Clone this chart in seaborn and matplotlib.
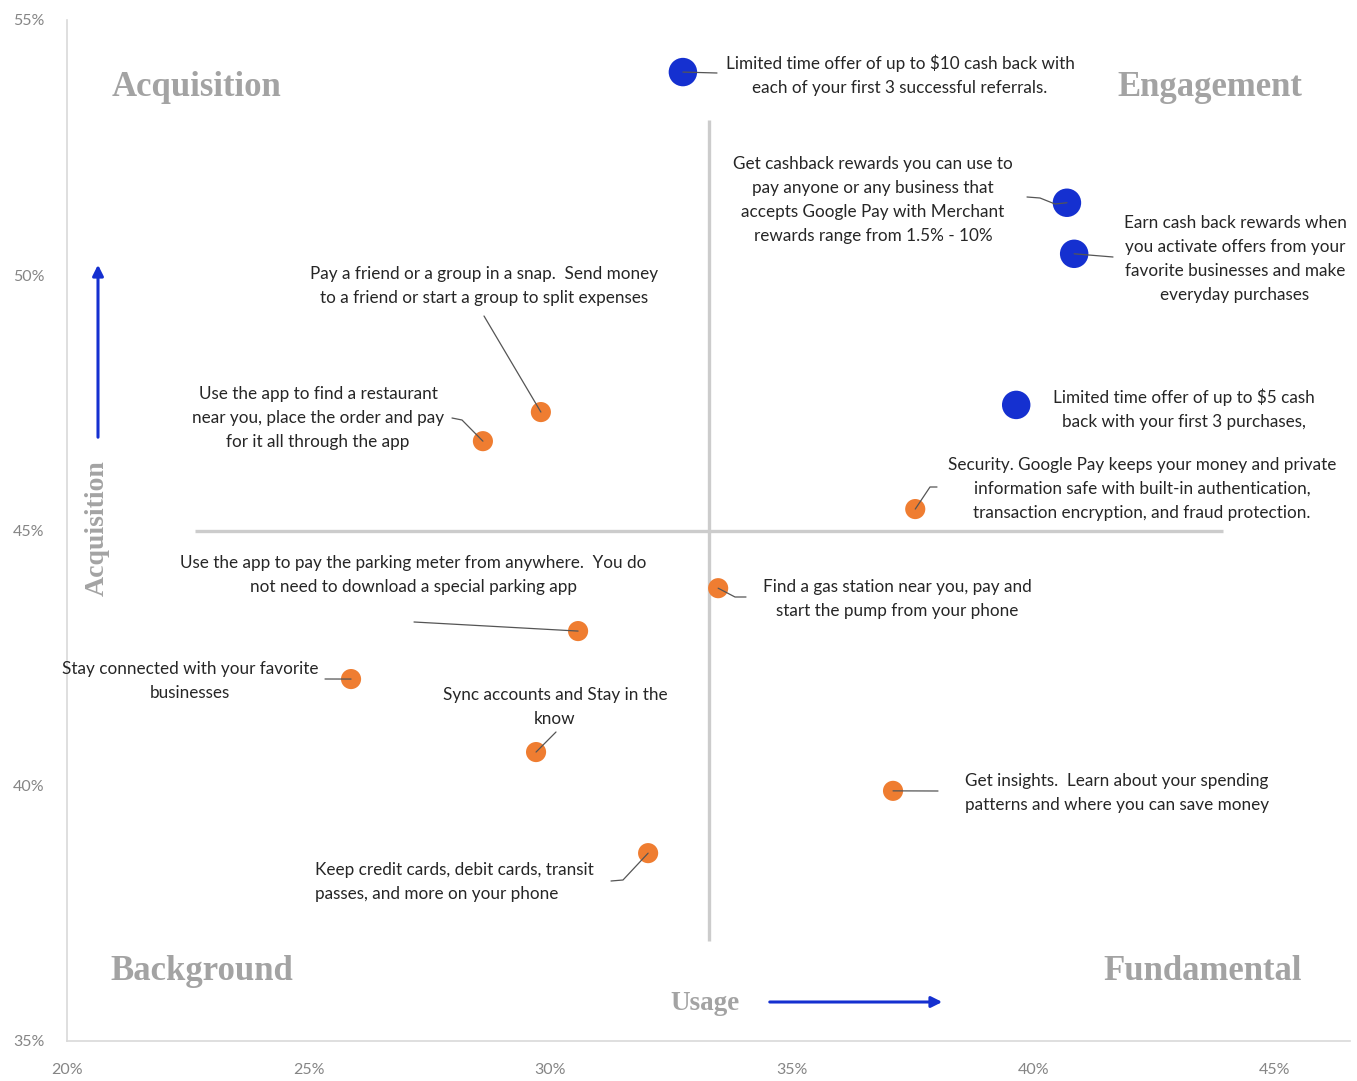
import matplotlib
matplotlib.use("Agg")
import matplotlib.pyplot as plt
import seaborn as sns
import pandas as pd
from matplotlib.transforms import IdentityTransform
from matplotlib.ticker import FuncFormatter

# ---------------- data ----------------
features = [
    "Limited time offer of up to $10 cash back with\neach of your first 3 successful referrals.",
    "Get cashback rewards you can use to\npay anyone or any business that\naccepts Google Pay with Merchant\nrewards range from 1.5% - 10%",
    "Earn cash back rewards when\nyou activate offers from your\nfavorite businesses and make\neveryday purchases",
    "Limited time offer of up to $5 cash\nback with your first 3 purchases,",
    "Pay a friend or a group in a snap.  Send money\nto a friend or start a group to split expenses",
    "Use the app to find a restaurant\nnear you, place the order and pay\nfor it all through the app",
    "Security. Google Pay keeps your money and private\ninformation safe with built-in authentication,\ntransaction encryption, and fraud protection.",
    "Find a gas station near you, pay and\nstart the pump from your phone",
    "Use the app to pay the parking meter from anywhere.  You do\nnot need to download a special parking app",
    "Stay connected with your favorite\nbusinesses",
    "Sync accounts and Stay in the\nknow",
    "Get insights.  Learn about your spending\npatterns and where you can save money",
    "Keep credit cards, debit cards, transit\npasses, and more on your phone",
]
usage = [32.75, 40.70, 40.85, 39.65, 29.81, 28.61, 37.56, 33.48, 30.58, 25.88, 29.71, 37.10, 32.03]
acquisition = [53.98, 51.42, 50.42, 47.46, 47.32, 46.75, 45.42, 43.87, 43.03, 42.09, 40.66, 39.90, 38.68]
group = ["Rewards"] * 4 + ["Core"] * 9

quadrant_names = ["Acquisition", "Engagement", "Background", "Fundamental"]
x_axis_title = "Usage"
y_axis_title = "Acquisition"
x_ticks = [20, 25, 30, 35, 40, 45]
y_ticks = [35, 40, 45, 50, 55]
x_split = 33.29
y_split = 45.0

# ---------------- layout (image pixels) ----------------
W, H = 1357, 1081
label_centers = [(900, 75), (873, 200), (1235, 259), (1184, 409), (484, 286), (318, 418),
                 (1142, 489), (897, 599), (413, 575), (190, 681), (555, 707), (1117, 793),
                 (454, 882)]
label_align = ["center"] * 12 + ["left"]
leaders = [[(717, 73)], [(1055, 204), (1040, 198), (1027, 197)], [(1113, 257)], [],
           [(484, 316)], [(462, 420), (452, 418)], [(930, 487), (937, 487)],
           [(735, 597), (746, 597)], [(414, 622)], [(325, 679)], [(556, 732)],
           [(938, 791)], [(623, 880), (611, 881)]]
quadrant_label_pos = [(196, 88), (1210, 88), (202, 971), (1203, 971)]

BLUE = "#1530d0"
ORANGE = "#ef7d31"
GRAY_TXT = "#a3a3a3"

sns.set_theme(style="white")
plt.rcParams["font.family"] = ["Lato", "DejaVu Sans"]

df = pd.DataFrame({"feature": features, "usage": usage, "acquisition": acquisition, "group": group})

fig = plt.figure(figsize=(W / 100, H / 100), dpi=100)
ax = fig.add_axes([67 / W, (H - 1041) / H, (1350 - 67) / W, (1041 - 20) / H])
ax.set_xlim(20, 46.56)
ax.set_ylim(35, 55)

sns.scatterplot(data=df, x="usage", y="acquisition", hue="group", size="group",
                sizes={"Rewards": 420, "Core": 210},
                palette={"Rewards": BLUE, "Core": ORANGE},
                linewidth=0, legend=False, ax=ax, zorder=4)

# quadrant divider lines
ax.plot([x_split, x_split], [36.96, 53.04], color="#cccccc", lw=2.4, zorder=1, solid_capstyle="butt")
ax.plot([22.65, 43.93], [y_split, y_split], color="#cccccc", lw=2.4, zorder=1, solid_capstyle="butt")

def img2disp(p):
    return (p[0], H - p[1])

# labels and leader lines
for (x, y, txt, c, al, lead) in zip(usage, acquisition, features, label_centers, label_align, leaders):
    ax.annotate(txt, xy=(x, y), xytext=img2disp(c), textcoords="figure pixels",
                ha="center", va="center", multialignment=al,
                fontsize=12.3, color="#262626", linespacing=1.62, zorder=5)
    if lead:
        px0 = ax.transData.transform((x, y))
        xs = [px0[0]] + [img2disp(p)[0] for p in lead]
        ys = [px0[1]] + [img2disp(p)[1] for p in lead]
        fig.add_artist(plt.Line2D(xs, ys, transform=IdentityTransform(), color="#555555",
                                  lw=0.9, zorder=3))

# quadrant names
for name, pos in zip(quadrant_names, quadrant_label_pos):
    fig.text(pos[0] / W, 1 - pos[1] / H, name, ha="center", va="center",
             family="Liberation Serif", fontweight="bold", fontsize=25, color=GRAY_TXT)

# axis titles with arrows
fig.text(97 / W, 1 - 528 / H, y_axis_title, rotation=90, ha="center", va="center",
         family="Liberation Serif", fontweight="bold", fontsize=20, color=GRAY_TXT)
fig.text(705 / W, 1 - 1003 / H, x_axis_title, ha="center", va="center",
         family="Liberation Serif", fontweight="bold", fontsize=19.5, color=GRAY_TXT)
fig.add_artist(matplotlib.patches.FancyArrowPatch(
    img2disp((98, 440)), img2disp((98, 262)), transform=IdentityTransform(),
    arrowstyle="-|>", mutation_scale=16, color=BLUE, lw=2.2))
fig.add_artist(matplotlib.patches.FancyArrowPatch(
    img2disp((767, 1002)), img2disp((945, 1002)), transform=IdentityTransform(),
    arrowstyle="-|>", mutation_scale=16, color=BLUE, lw=2.2))

# axes styling
ax.set_xticks(x_ticks)
ax.set_yticks(y_ticks)
pct = FuncFormatter(lambda v, _: f"{v:.0f}%")
ax.xaxis.set_major_formatter(pct)
ax.yaxis.set_major_formatter(pct)
ax.tick_params(length=0, labelsize=11.5, labelcolor="#858585", pad=16)
ax.set_xlabel("")
ax.set_ylabel("")
for s in ["top", "right"]:
    ax.spines[s].set_visible(False)
for s in ["left", "bottom"]:
    ax.spines[s].set_color("#d9d9d9")
    ax.spines[s].set_linewidth(1.2)
ax.grid(False)

fig.savefig("out.png", dpi=100)
